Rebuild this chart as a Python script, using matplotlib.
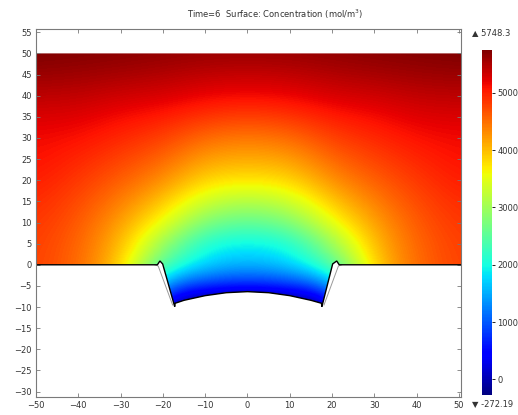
import matplotlib

matplotlib.use("Agg")
import matplotlib.pyplot as plt  # noqa: E402
import numpy as np  # noqa: E402
from matplotlib.patches import Polygon  # noqa: E402

plt.rcParams["mathtext.default"] = "regular"

x_nodes = [-50, -40, -30, -20, -10, 0, 10, 20, 30, 40, 50]
y_nodes = [50, 45, 40, 35, 30, 25, 20, 15, 10, 5, 0, -5, -10]

# Concentration (mol/m^3), one row per y node, top to bottom
conc_rows = [
    [5748, 5720, 5690, 5650, 5610, 5600, 5610, 5650, 5690, 5720, 5748],
    [5600, 5570, 5520, 5470, 5400, 5370, 5400, 5470, 5520, 5570, 5600],
    [5420, 5400, 5320, 5280, 5170, 5130, 5170, 5280, 5320, 5400, 5420],
    [5260, 5240, 5120, 5030, 4850, 4780, 4850, 5030, 5120, 5240, 5260],
    [5150, 5100, 4950, 4800, 4500, 4420, 4500, 4800, 4950, 5100, 5150],
    [5100, 4970, 4780, 4560, 4160, 4100, 4160, 4560, 4780, 4970, 5100],
    [5030, 4850, 4600, 4300, 3800, 3720, 3800, 4300, 4600, 4850, 5030],
    [4940, 4740, 4400, 3950, 3300, 3100, 3300, 3950, 4400, 4740, 4940],
    [4870, 4650, 4200, 3550, 2700, 2500, 2700, 3550, 4200, 4650, 4870],
    [4820, 4580, 4050, 2950, 2000, 1880, 2000, 2950, 4050, 4580, 4820],
    [4800, 4550, 3950, 2390, 1700, 1530, 1700, 2390, 3950, 4550, 4800],
    [4780, 4520, 3850, 1100, 700, 600, 700, 1100, 3850, 4520, 4780],
    [4750, 4500, 3800, -300, -600, -900, -600, -300, 3800, 4500, 4750],
]

c_min = -272.19
c_max = 5748.3
cbar_ticks = [0, 1000, 2000, 3000, 4000, 5000]

# Boundary of the etched surface (black) and the earlier outline (grey)
edge_x = [-50, -21.3, -20.7, -20.05, -17.2, -17.1, -15, -10, -5, 0,
          5, 10, 15, 17.5, 17.6, 20.15, 21.1, 21.7, 50.5]
edge_y = [0, 0, 0.9, 0.2, -9.9, -9.1, -8.4, -7.3, -6.6, -6.35,
          -6.6, -7.3, -8.4, -9.1, -9.9, 0.2, 0.9, 0, 0]
ghost_left_x = [-21.9, -21.1, -17.7]
ghost_left_y = [0.0, -0.3, -9.5]
ghost_right_x = [18.1, 21.5, 22.3]
ghost_right_y = [-9.5, -0.3, 0.0]
domain_top = 50

TEXT = "#333333"
FRAME = "#7a7a7a"

fig = plt.figure(figsize=(5.18, 4.15), dpi=100)
ax = fig.add_axes([0.0695, 0.0441, 0.8205, 0.8853])

conc = np.array(conc_rows, dtype=float)
dx = x_nodes[1] - x_nodes[0]
dy = y_nodes[0] - y_nodes[1]
im = ax.imshow(
    conc,
    cmap="jet",
    vmin=c_min,
    vmax=c_max,
    origin="upper",
    extent=(x_nodes[0] - dx / 2, x_nodes[-1] + dx / 2,
            y_nodes[-1] - dy / 2, y_nodes[0] + dy / 2),
    interpolation="bicubic",
    interpolation_stage="data",
    aspect="auto",
)

# clip the field to the geometry: etched surface below, flat top above
outline = np.column_stack([edge_x, edge_y])
corners = np.array([[edge_x[-1], domain_top], [edge_x[0], domain_top]])
domain = Polygon(np.vstack([outline, corners]), closed=True,
                 facecolor="none", edgecolor="none", transform=ax.transData)
ax.add_patch(domain)
im.set_clip_path(domain)

ax.plot(ghost_left_x, ghost_left_y, color="#9a9a9a", lw=0.7)
ax.plot(ghost_right_x, ghost_right_y, color="#9a9a9a", lw=0.7)
ax.plot(edge_x, edge_y, color="black", lw=1.0, solid_joinstyle="miter")

ax.set_xlim(-50, 50.5)
ax.set_ylim(-31.2, 55.7)
ax.set_xticks(range(-50, 51, 10))
ax.set_yticks(range(-30, 56, 5))
ax.tick_params(direction="in", top=True, right=True, length=3, width=0.6,
               color=FRAME, labelsize=6, labelcolor=TEXT, pad=3)
for spine in ax.spines.values():
    spine.set_color(FRAME)
    spine.set_linewidth(0.8)

fig.text(0.531, 0.966, "Time=6  Surface: Concentration (mol/m$^{3}$)",
         ha="center", va="center", fontsize=6, color=TEXT)

cax = fig.add_axes([0.930, 0.0482, 0.0193, 0.8313])
cb = fig.colorbar(im, cax=cax, ticks=cbar_ticks)
cb.outline.set_visible(False)
cax.tick_params(labelsize=6, labelcolor=TEXT, length=2, width=0.6,
                color="black", pad=2)
fig.text(0.911, 0.922, "\u25b2 5748.3", ha="left", va="center",
         fontsize=6, color=TEXT)
fig.text(0.911, 0.028, "\u25bc -272.19", ha="left", va="center",
         fontsize=6, color=TEXT)

fig.savefig("out.png", dpi=100)
